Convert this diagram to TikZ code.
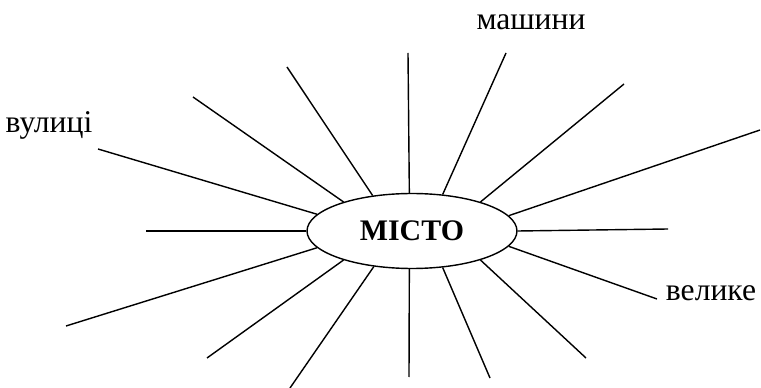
\documentclass[tikz,border=0pt]{standalone}
\usepackage{fontspec}
\setmainfont{Liberation Serif}
\usetikzlibrary{shapes.geometric}

\begin{document}
\begin{tikzpicture}[x=0.02cm, y=-0.02cm, thick,
                center/.style={ellipse, draw, minimum width=4.2cm, minimum height=1.5cm, inner sep=0pt, font=\fontsize{17}{20}\selectfont\bfseries},
                word/.style={font=\fontsize{18}{21}\selectfont, inner sep=0pt}
            ]
            \useasboundingbox (0,0) rectangle (761,388);

            % Central word
            \node[center] (city) at (412,231) {МІСТО};

            % Labels
            \node[word] (streets) at (49,125) {вулиці};
            \node[word] (cars) at (531,22) {машини};
            \node[word] (big) at (711,293) {велике};

            % Free ends of the rays
            \coordinate (r1) at (287,67);
            \coordinate (r2) at (408,53);
            \coordinate (r3) at (506,53);
            \coordinate (r4) at (624,84);
            \coordinate (r5) at (760,130);
            \coordinate (r6) at (668,229);
            \coordinate (r7) at (657,299);
            \coordinate (r8) at (586,358);
            \coordinate (r9) at (490,378);
            \coordinate (r10) at (409,377);
            \coordinate (r11) at (290,388);
            \coordinate (r12) at (207,358);
            \coordinate (r13) at (66,326);
            \coordinate (r14) at (146,231);
            \coordinate (r15) at (98,149);
            \coordinate (r16) at (193,97);

            % Rays
            \draw (city.138) -- (r1);
            \draw (city.94) -- (r2);
            \draw (city.50) -- (r3);
            \draw (city.23) -- (r4);
            \draw (city.9.5) -- (r5);
            \draw (city.0) -- (r6);
            \draw (city.-9.5) -- (r7);
            \draw (city.-23) -- (r8);
            \draw (city.-50) -- (r9);
            \draw (city.-94) -- (r10);
            \draw (city.-137) -- (r11);
            \draw (city.-157) -- (r12);
            \draw (city.-170) -- (r13);
            \draw (city.180) -- (r14);
            \draw (city.170.6) -- (r15);
            \draw (city.157.6) -- (r16);

        \end{tikzpicture}
\end{document}
